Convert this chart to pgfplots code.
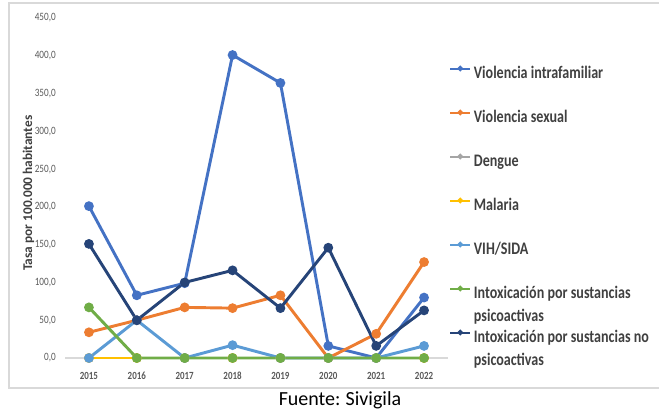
\documentclass[border=0pt]{standalone}
\usepackage{fontspec}
\usepackage{graphicx}
\setmainfont{Carlito}
\newfontfamily\condfont{Carlito}[FakeStretch=0.82]
\newfontfamily\footfont{Carlito}[WordSpace=0.8]
\newcommand\LE[1]{\scalebox{0.8}[1]{#1}}
\newcommand\LEE[2]{\scalebox{0.8}[1]{\begin{tabular}[t]{@{}l@{}}#1\\#2\end{tabular}}}
\usepackage{pgfplots}
\pgfplotsset{compat=1.18}
\definecolor{tickgray}{HTML}{595959}
\definecolor{textgray}{HTML}{404040}
\definecolor{cIntra}{HTML}{4472C4}
\definecolor{cSex}{HTML}{ED7D31}
\definecolor{cDeng}{HTML}{A5A5A5}
\definecolor{cMal}{HTML}{FFC000}
\definecolor{cVih}{HTML}{5B9BD5}
\definecolor{cPsi}{HTML}{70AD47}
\definecolor{cNoPsi}{HTML}{264478}
\begin{document}
\begin{tikzpicture}
\useasboundingbox (0,0) rectangle (494.25pt,308.25pt);
\draw[color=black!15, line width=0.8pt] (494.25pt,306pt) -- (6.75pt,306pt) -- (6.75pt,17.25pt) -- (494.25pt,17.25pt);
\begin{axis}[
  at={(48.75pt,39.75pt)}, anchor=south west,
  scale only axis, width=287.25pt, height=255pt,
  xmin=2014.5, xmax=2022.5, ymin=0, ymax=450,
  clip=false,
  axis x line*=bottom, axis y line*=left,
  x axis line style={draw=black!15, line width=0.8pt, -},
  y axis line style={draw=none},
  xtick={2015,2016,2017,2018,2019,2020,2021,2022},
  ytick={0,50,100,150,200,250,300,350,400,450},
  major tick length=0pt, tick style={draw=none},
  /pgf/number format/assume math mode=true,
  xticklabel style={/pgf/number format/1000 sep={}, font=\condfont\bfseries\fontsize{8.2}{9}\selectfont, text=tickgray, inner sep=0pt, yshift=-10.5pt},
  yticklabel style={/pgf/number format/.cd, fixed, fixed zerofill, precision=1, use comma, 1000 sep={}, /tikz/.cd, font=\condfont\fontsize{8.4}{9}\selectfont, text=tickgray, inner sep=0pt, xshift=-6.75pt},
  ylabel={Tasa por 100.000 habitantes},
  ylabel style={at={(axis description cs:-0.0952,0.485)}, anchor=center, font=\bfseries\fontsize{10}{11}\selectfont, text=textgray},
  legend cell align=left,
  legend style={at={(axis description cs:1.0026,0.862)}, anchor=north west, draw=none, fill=none, inner sep=0pt, row sep=20pt, column sep=2pt,
    nodes={inner sep=0pt, text height=10pt, text depth=3pt, font=\bfseries\fontsize{13.2}{17.5}\selectfont, text=textgray}},
  legend image code/.code={\draw[mark repeat=2, mark phase=2, #1, line width=1.5pt, mark size=1.3pt] plot coordinates {(0pt,4pt) (7.5pt,4pt) (15pt,4pt)};},
  every axis plot/.append style={line width=2.2pt, mark=*, mark size=2.5pt, mark options={solid}},
]
\addplot[color=cIntra] coordinates {(2015,201) (2016,83) (2017,99) (2018,401) (2019,364) (2020,16) (2021,0) (2022,80)};
\addlegendentry{\LE{Violencia intrafamiliar}}
\addplot[color=cSex] coordinates {(2015,34) (2016,50) (2017,67) (2018,66) (2019,83) (2020,0) (2021,32) (2022,127)};
\addlegendentry{\LE{Violencia sexual}}
\addplot[color=cDeng] coordinates {(2015,0) (2016,0) (2017,0) (2018,0) (2019,0) (2020,0) (2021,0) (2022,0)};
\addlegendentry{\LE{Dengue}}
\addplot[color=cMal] coordinates {(2015,0) (2016,0) (2017,0) (2018,0) (2019,0) (2020,0) (2021,0) (2022,0)};
\addlegendentry{\LE{Malaria}}
\addplot[color=cVih] coordinates {(2015,0) (2016,50) (2017,0) (2018,17) (2019,0) (2020,0) (2021,0) (2022,16)};
\addlegendentry{\LE{VIH/SIDA}}
\addplot[color=cPsi] coordinates {(2015,67) (2016,0) (2017,0) (2018,0) (2019,0) (2020,0) (2021,0) (2022,0)};
\addlegendentry{\LEE{Intoxicación por sustancias}{psicoactivas}}
\addplot[color=cNoPsi] coordinates {(2015,151) (2016,50) (2017,100) (2018,116) (2019,66) (2020,146) (2021,16) (2022,63)};
\addlegendentry{\LEE{Intoxicación por sustancias no}{psicoactivas}}
\end{axis}
\node[font=\footfont\fontsize{15}{16}\selectfont, text=black] at (255pt,8.25pt) {Fuente: Sivigila};
\end{tikzpicture}
\end{document}
